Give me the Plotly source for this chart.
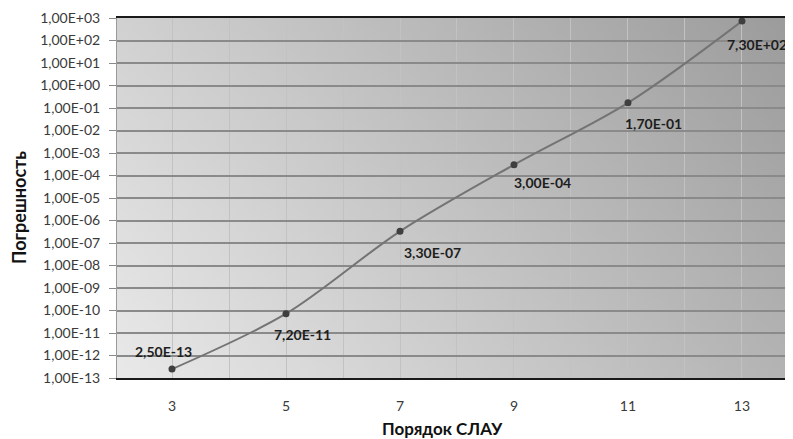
import base64
import math
import plotly.graph_objects as go

# ---- data ----
orders = [3, 5, 7, 9, 11, 13]
errors = [2.5e-13, 7.2e-11, 3.3e-7, 3.0e-4, 1.7e-1, 7.3e2]
error_labels = ["2,50E-13", "7,20E-11", "3,30E-07", "3,00E-04", "1,70E-01", "7,30E+02"]
x_ticks = [3, 5, 7, 9, 11, 13]
y_exponents = list(range(-13, 4))
y_tick_text = ["1,00E" + ("+" if e >= 0 else "-") + "%02d" % abs(e) for e in y_exponents]
x_title = "Порядок СЛАУ"
y_title = "Погрешность"

# label offsets (pixels) relative to each point
label_dx = [-9, 16, 32, 29, 26, 15]
label_dy = [18, -21, -21, -18, -21, -23]

FONT = "Lato, 'Liberation Sans', sans-serif"

# page body has an 8px margin; plot area target: x 117..793, y 18..378
PAGE_OFF = 8
W, H = 793 - PAGE_OFF, 439 - PAGE_OFF
ML, MT, MR, MB = 117 - PAGE_OFF, 18 - PAGE_OFF, 0, 439 - 378
PW, PH = 676, 360

svg = (
    '<svg xmlns="http://www.w3.org/2000/svg" width="676" height="360" viewBox="0 0 100 100" preserveAspectRatio="none">'
    '<defs><linearGradient id="g" gradientUnits="userSpaceOnUse" x1="0" y1="100" x2="120.6" y2="46.9">'
    '<stop offset="0" stop-color="#e9e9e9"/><stop offset="1" stop-color="#9b9b9b"/>'
    '</linearGradient></defs><rect x="0" y="0" width="100" height="100" fill="url(#g)"/></svg>'
)
svg_uri = "data:image/svg+xml;base64," + base64.b64encode(svg.encode()).decode()

fig = go.Figure()
fig.add_trace(go.Scatter(
    x=orders, y=errors, mode="lines+markers",
    line=dict(color="#747474", width=2, shape="spline", smoothing=0.9),
    marker=dict(color="#3f3f3f", size=7),
    hoverinfo="skip", showlegend=False,
))

for xv, yv, txt, dx, dy in zip(orders, errors, error_labels, label_dx, label_dy):
    fig.add_annotation(x=xv, y=math.log10(yv), text=txt, showarrow=False,
                       xanchor="center", yanchor="middle", xshift=dx, yshift=dy,
                       font=dict(family=FONT, size=14, color="#1e1e1e", weight="bold"))

fig.add_annotation(x=(19 - 117) / PW, y=(378 - 208) / PH, xref="paper", yref="paper",
                   text="<b>" + y_title + "</b>", textangle=-90, showarrow=False,
                   xanchor="center", yanchor="middle", borderpad=0,
                   font=dict(family=FONT, size=18, color="#111111"))
fig.add_annotation(x=(442 - 117) / PW, y=(378 - 428) / PH, xref="paper", yref="paper",
                   text="<b>" + x_title + "</b>", showarrow=False,
                   xanchor="center", yanchor="middle", borderpad=0,
                   font=dict(family=FONT, size=17, color="#111111"))

fig.add_layout_image(dict(source=svg_uri, xref="paper", yref="paper", x=0, y=1,
                          sizex=1, sizey=1, xanchor="left", yanchor="top",
                          sizing="stretch", layer="below"))

fig.update_layout(
    width=W, height=H,
    margin=dict(l=ML, r=MR, t=MT, b=MB),
    paper_bgcolor="white",
    plot_bgcolor="rgba(0,0,0,0)",
    font=dict(family=FONT, size=14, color="#3a3a3a"),
    xaxis=dict(range=[2.035, 13.895], tickvals=x_ticks, ticktext=[str(v) for v in x_ticks],
               showgrid=True, gridcolor="#c2c2c2", gridwidth=1,
               ticks="", ticklabelstandoff=14, showline=True, linecolor="#1a1a1a",
               linewidth=1.5, mirror=True, zeroline=False,
               minor=dict(showgrid=True, gridcolor="#c2c2c2", gridwidth=1, dtick=1, tick0=0)),
    yaxis=dict(type="log", range=[-13, 3], tickvals=[10.0 ** e for e in y_exponents],
               ticktext=y_tick_text, showgrid=True, gridcolor="#8a8a8a", gridwidth=1.5,
               ticks="outside", ticklen=7, tickcolor="#8a8a8a", ticklabelstandoff=6,
               showline=True, linecolor="#9a9a9a", linewidth=1, zeroline=False),
)

fig.write_html("out.html")
